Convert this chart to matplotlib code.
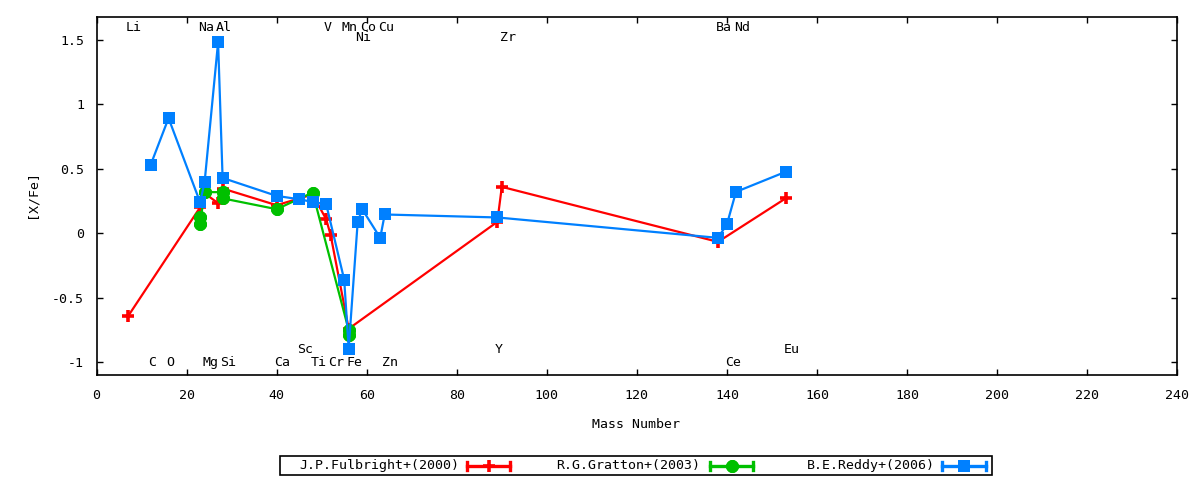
import matplotlib
matplotlib.use("Agg")
import matplotlib.pyplot as plt
from matplotlib.patches import Rectangle

plt.rcParams['font.family'] = ['DejaVu Sans Mono']
FS = 9.5

# ---------------- data ----------------
# J.P.Fulbright+(2000)
ful_mass = [7, 23, 24, 27, 28, 40, 48, 51, 52, 56, 89, 90, 138, 153]
ful_val = [-0.643, 0.20, 0.31, 0.232, 0.346, 0.217, 0.30, 0.108, -0.015,
           -0.74, 0.088, 0.359, -0.067, 0.269]

# R.G.Gratton+(2003)
gra_mass = [23, 23, 24, 28, 28, 40, 48, 56, 56]
gra_val = [0.126, 0.075, 0.318, 0.318, 0.27, 0.186, 0.315, -0.75, -0.79]

# B.E.Reddy+(2006)
red_mass = [12, 16, 23, 24, 27, 28, 40, 45, 48, 51, 55, 56, 58, 59, 63, 64,
            89, 138, 140, 142, 153]
red_val = [0.527, 0.891, 0.240, 0.393, 1.479, 0.428, 0.289, 0.263, 0.242,
           0.225, -0.359, -0.893, 0.088, 0.186, -0.036, 0.145, 0.122,
           -0.036, 0.070, 0.320, 0.475]

series_names = ['J.P.Fulbright+(2000)', 'R.G.Gratton+(2003)', 'B.E.Reddy+(2006)']
series_colors = ['#ff0000', '#00c000', '#0080ff']

# element labels: name, mass number, label height
elem_names = ['Li', 'Na', 'Al', 'V', 'Mn', 'Co', 'Cu', 'Ba', 'Nd',
              'Ni', 'Zr',
              'C', 'O', 'Mg', 'Si', 'Ca', 'Ti', 'Cr', 'Fe', 'Zn', 'Ce',
              'Sc', 'Y', 'Eu']
elem_mass = [7, 23, 27, 51, 55, 59, 63, 138, 142,
             58, 90,
             12, 16, 24, 28, 40, 48, 52, 56, 64, 140,
             45, 89, 153]
elem_y = [1.596] * 9 + [1.518] * 2 + [-1.005] * 10 + [-0.90] * 3

xticks = [0, 20, 40, 60, 80, 100, 120, 140, 160, 180, 200, 220, 240]
yticks = [-1, -0.5, 0, 0.5, 1, 1.5]
ytick_labels = ['-1', '-0.5', '0', '0.5', '1', '1.5']

# ---------------- figure ----------------
W, H = 1200, 480
fig = plt.figure(figsize=(12, 4.8), dpi=100)
L, R, T, B = 96.5, 1177.3, 17.3, 375.0
ax = fig.add_axes([L / W, 1 - B / H, (R - L) / W, (B - T) / H])
ax.set_xlim(0, 240)
ax.set_ylim(-1.098, 1.672)

ast = (8, 2, 0)
ax.plot(ful_mass, ful_val, color=series_colors[0], lw=1.6, marker='+',
        ms=9, mew=2.6, zorder=3)
ax.plot(gra_mass, gra_val, color=series_colors[1], lw=1.6, marker=ast,
        ms=9, mew=3.0, zorder=4)
ax.plot(red_mass, red_val, color=series_colors[2], lw=1.6, marker='s',
        ms=8.5, mew=0, zorder=5)

for n, m, y in zip(elem_names, elem_mass, elem_y):
    ax.text(m - 0.5, y, n, ha='left', va='center', fontsize=FS, zorder=6)

ax.set_xticks(xticks)
ax.set_xticklabels([str(v) for v in xticks])
ax.set_yticks(yticks)
ax.set_yticklabels(ytick_labels)
ax.tick_params(direction='in', length=4.5, width=1, top=True, right=True,
               labelsize=FS)
ax.tick_params(axis='x', pad=10)
ax.tick_params(axis='y', pad=9)
for s in ax.spines.values():
    s.set_linewidth(1.2)

fig.text(32 / W, 1 - 194 / H, '[X/Fe]', rotation=90, ha='center',
         va='center', fontsize=FS)
fig.text(636 / W, 1 - 425 / H, 'Mass Number', ha='center', va='center',
         fontsize=FS)

# ---------------- legend (gnuplot style, drawn in pixel coords) ----------------
lg = fig.add_axes([0, 0, 1, 1])
lg.set_xlim(0, W)
lg.set_ylim(H, 0)
lg.axis('off')
lg.patch.set_visible(False)
lg.add_patch(Rectangle((280, 456), 712, 19, fill=False, lw=1.2,
                       edgecolor='black'))
yc = 465.5
text_right = [459, 700, 935]
samp = [(467, 510), (710, 753), (942, 986)]
mk = ['+', ast, 's']
mkw = [dict(ms=9, mew=2.6), dict(ms=9, mew=3.0), dict(ms=8.5, mew=0)]
for name, col, tr, (x0, x1), m, kw in zip(series_names, series_colors,
                                           text_right, samp, mk, mkw):
    lg.text(tr, yc, name, ha='right', va='center', fontsize=FS)
    lg.plot([x0, x1], [yc, yc], color=col, lw=2.4)
    lg.plot([x0, x0], [yc - 4, yc + 4], color=col, lw=2.4)
    lg.plot([x1, x1], [yc - 4, yc + 4], color=col, lw=2.4)
    lg.plot([(x0 + x1) / 2], [yc], color=col, marker=m, **kw)

fig.savefig('out.png', dpi=100)
